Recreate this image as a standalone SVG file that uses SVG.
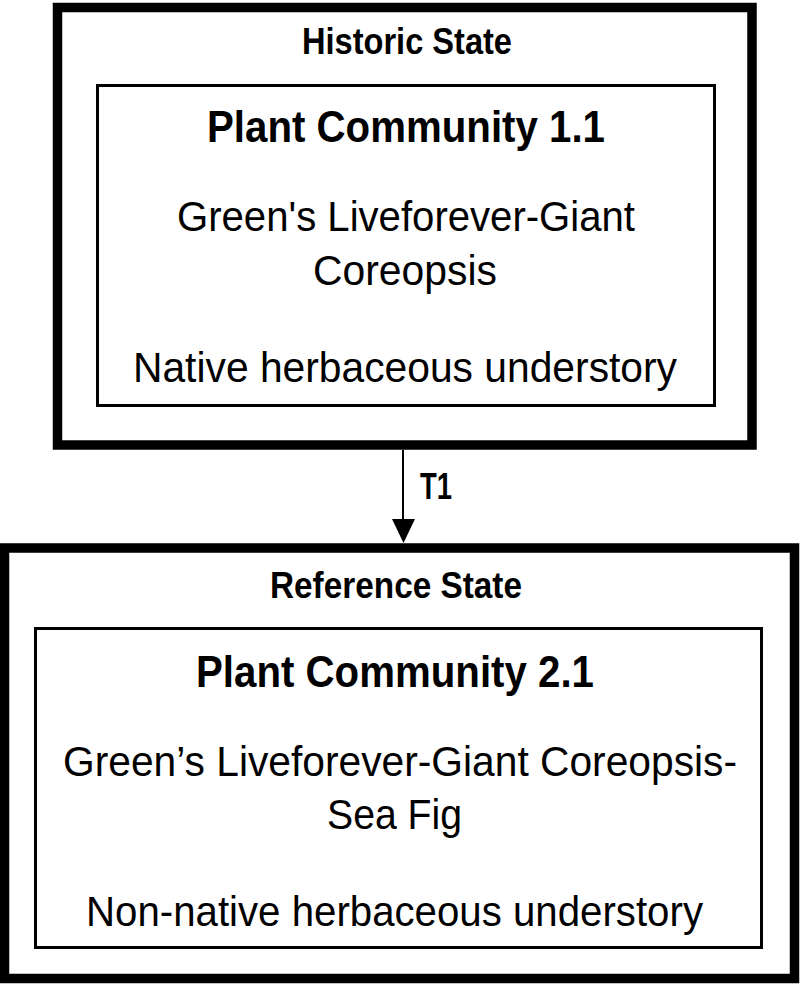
<svg xmlns="http://www.w3.org/2000/svg" width="800" height="988" viewBox="0 0 800 988">
<style>
.outer{fill:none;stroke:#000;stroke-width:9.5}
.inner{fill:none;stroke:#000;stroke-width:3}
.t{font-family:"Liberation Sans",Arial,sans-serif;fill:#000;text-anchor:middle}
.h{font-weight:bold;font-size:36px}
.pc{font-weight:bold;font-size:44px}
.b{font-size:42px}
.conn{stroke:#000;stroke-width:2;fill:none}
</style>
<rect width="800" height="988" fill="#fff"/>
<g id="historic-state">
<rect class="outer" x="57.5" y="7.5" width="694.5" height="437.5"/>
<text class="t h" x="407" y="54" textLength="210" lengthAdjust="spacingAndGlyphs">Historic State</text>
<g id="pc-1-1">
<rect class="inner" x="97.5" y="85.5" width="617" height="320"/>
<text class="t pc" x="406" y="142" textLength="398" lengthAdjust="spacingAndGlyphs">Plant Community 1.1</text>
<text class="t b" x="406" y="231" textLength="458" lengthAdjust="spacingAndGlyphs">Green's Liveforever-Giant</text>
<text class="t b" x="405" y="285" textLength="184" lengthAdjust="spacingAndGlyphs">Coreopsis</text>
<text class="t b" x="405" y="382" textLength="544" lengthAdjust="spacingAndGlyphs">Native herbaceous understory</text>
</g>
</g>
<g id="connectors">
<line class="conn" x1="403" y1="450" x2="403" y2="522"/>
<polygon points="392,519 415,519 403.5,543" fill="#000"/>
<text class="t h" x="436" y="499" textLength="32" lengthAdjust="spacingAndGlyphs">T1</text>
</g>
<g id="reference-state">
<rect class="outer" x="4.5" y="548" width="790" height="430.5"/>
<text class="t h" x="396" y="598" textLength="252" lengthAdjust="spacingAndGlyphs">Reference State</text>
<g id="pc-2-1">
<rect class="inner" x="35.5" y="628.5" width="726" height="319"/>
<text class="t pc" x="395" y="687" textLength="398" lengthAdjust="spacingAndGlyphs">Plant Community 2.1</text>
<text class="t b" x="400" y="776" textLength="674" lengthAdjust="spacingAndGlyphs">Green’s Liveforever-Giant Coreopsis-</text>
<text class="t b" x="394.5" y="829" textLength="135" lengthAdjust="spacingAndGlyphs">Sea Fig</text>
<text class="t b" x="394.5" y="926" textLength="617" lengthAdjust="spacingAndGlyphs">Non-native herbaceous understory</text>
</g>
</g>
</svg>
